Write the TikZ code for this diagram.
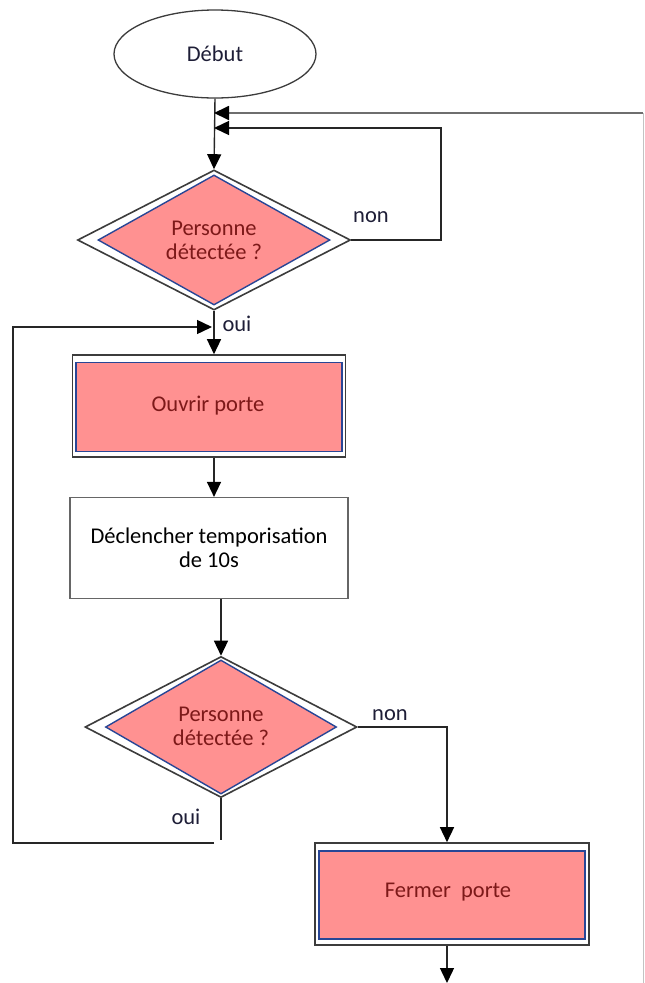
\documentclass[tikz,border=0pt]{standalone}
\usepackage{fontspec}
\setmainfont{Carlito}
\usetikzlibrary{shapes.geometric,arrows.meta}
\definecolor{pinkfill}{RGB}{255,145,145}
\definecolor{bordblue}{RGB}{40,70,150}
\definecolor{textred}{RGB}{125,25,25}
\definecolor{outgray}{RGB}{60,60,60}
\definecolor{labnavy}{RGB}{30,30,55}
\definecolor{lightline}{RGB}{195,195,195}
\definecolor{midline}{RGB}{110,110,110}
\tikzset{
  base/.style={font=\fontsize{22.5}{24}\selectfont, inner sep=0pt},
  outerdia/.style={diamond, draw=outgray, line width=1.6pt, fill=white, inner sep=0pt},
  innerdia/.style={diamond, draw=bordblue, line width=1.4pt, fill=pinkfill, inner sep=0pt},
  outerbox/.style={rectangle, draw=outgray, line width=1.6pt, fill=white, inner sep=0pt},
  innerbox/.style={rectangle, draw=bordblue, line width=1.6pt, fill=pinkfill, inner sep=0pt},
  redtext/.style={base, text=textred, align=center},
  lab/.style={base, text=labnavy},
  conn/.style={draw=black!85, line width=1.4pt},
  tip/.style={-{Triangle[length=15pt,width=14pt,color=black]}},
  arr/.style={conn, tip},
}
\begin{document}
\begin{tikzpicture}[x=1pt,y=-1pt]
\useasboundingbox (0,0) rectangle (645,983);

% Start
\node[ellipse, draw=outgray, line width=1.3pt, minimum width=202pt, minimum height=88pt, base, text=labnavy] (debut) at (215,54) {Début};

% Decision 1
\node[outerdia, minimum width=273pt, minimum height=140pt] (d1) at (214,240) {};
\node[innerdia, minimum width=232pt, minimum height=130pt] (d1i) at (214,240) {};
\node[redtext] (d1t) at (214,240) {Personne\\détectée ?};

% Box Ouvrir porte
\node[outerbox, minimum width=273pt, minimum height=102pt] (b1) at (209,406) {};
\node[innerbox, minimum width=266pt, minimum height=89pt] (b1i) at (209,407) {};
\node[redtext] (b1t) at (208,406) {Ouvrir porte};

% Box temporisation
\node[rectangle, draw=black!60, line width=1.2pt, minimum width=278pt, minimum height=101pt, base, align=center, text=black] (b2) at (209,548) {Déclencher temporisation\\de 10s};

% Decision 2
\node[outerdia, minimum width=272pt, minimum height=141pt] (d2) at (221,727) {};
\node[innerdia, minimum width=231pt, minimum height=134pt] (d2i) at (221,727) {};
\node[redtext] (d2t) at (221,726) {Personne\\détectée ?};

% Box Fermer porte
\node[outerbox, minimum width=274pt, minimum height=102pt] (b3) at (452,894) {};
\node[innerbox, minimum width=266pt, minimum height=88pt] (b3i) at (452,895) {};
\node[redtext] (b3t) at (448,892) {Fermer\ \ porte};

% Labels
\node[lab] (non1) at (371,217) {non};
\node[lab] (oui1) at (237,324) {oui};
\node[lab] (non2) at (390,715) {non};
\node[lab] (oui2) at (186,817) {oui};

% Coordinates
\coordinate (m1) at (214,113);
\coordinate (m2) at (214,128);
\coordinate (r1) at (643,113);
\coordinate (r2) at (643,983);
\coordinate (n1) at (441,240);
\coordinate (n1t) at (441,128);
\coordinate (l1) at (13,843);
\coordinate (l2) at (13,327);
\coordinate (m3) at (212,327);
\coordinate (l0) at (214,843);
\coordinate (o2) at (221,840);
\coordinate (n2) at (447,727);
\coordinate (endp) at (447,983);

% Connectors
\draw[arr] (debut.south) -- (d1.north);
\draw[draw=lightline, line width=1pt] (r2) -- (r1);
\draw[draw=midline, line width=1.8pt, tip] (r1) -- (m1);
\draw[arr] (d1.east) -- (n1) -- (n1t) -- (m2);
\draw[arr] (d1.south) -- (b1.north -| d1.south);
\draw[arr] (l0) -- (l1) -- (l2) -- (m3);
\draw[arr] (b1.south -| m1) -- (b2.north -| m1);
\draw[arr] (b2.south -| d2.north) -- (d2.north);
\draw[conn] (d2.south) -- (o2);
\draw[arr] (d2.east) -- (n2) -- (b3.north -| n2);
\draw[arr] (b3.south -| n2) -- (endp);

\end{tikzpicture}
\end{document}
